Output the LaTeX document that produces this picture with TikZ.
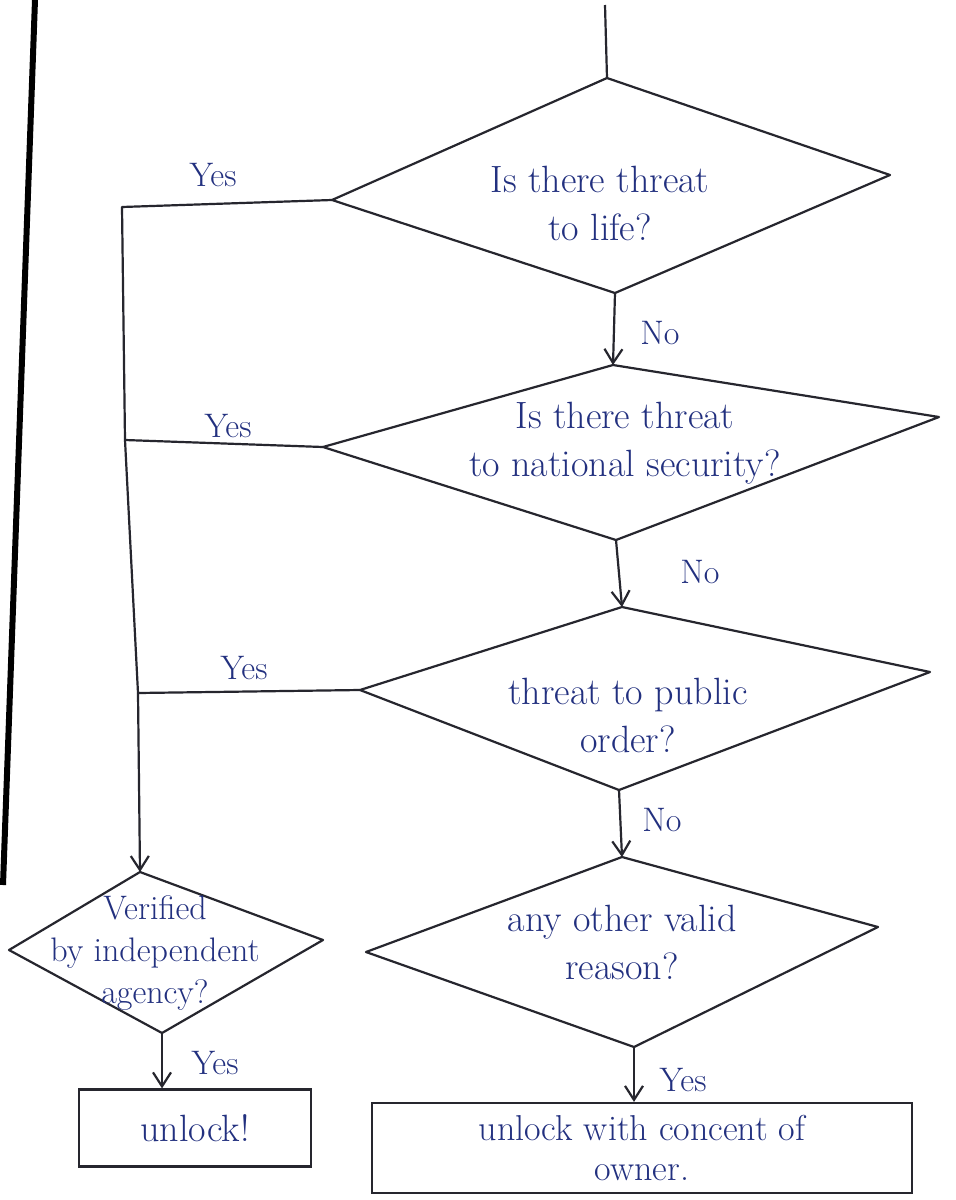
\documentclass[tikz,border=0pt]{standalone}
\usetikzlibrary{arrows.meta}
\definecolor{ink}{HTML}{22307F}
\definecolor{pen}{HTML}{26262E}
\begin{document}
\begin{tikzpicture}[x=0.5pt,y=-0.5pt,
  outline/.style={draw=pen, line width=1.1pt, line join=round},
  link/.style={draw=pen, line width=1.1pt, line join=round},
  flow/.style={draw=pen, line width=1.1pt, -{Straight Barb[length=7pt,width=9pt]}},
  txt/.style={text=ink, font=\fontsize{19}{24}\selectfont, align=center, inner sep=0pt},
  lbl/.style={text=ink, font=\fontsize{17}{20}\selectfont, inner sep=0pt},
  box/.style={draw=pen, line width=1.1pt, text=ink, font=\fontsize{19}{24}\selectfont, align=center}]
\useasboundingbox (0,0) rectangle (956,1200);
\fill[white] (0,0) rectangle (956,1200);

% margin rule of the page
\coordinate (m1) at (35,0);
\coordinate (m2) at (3,885);
\draw[line width=3pt, black] (m1) -- (m2);

% decision vertices
\coordinate (d1t) at (607,78);  \coordinate (d1r) at (890,175);
\coordinate (d1b) at (615,293); \coordinate (d1l) at (332,200);
\coordinate (d2t) at (613,365); \coordinate (d2r) at (939,417);
\coordinate (d2b) at (616,540); \coordinate (d2l) at (323,447);
\coordinate (d3t) at (622,607); \coordinate (d3r) at (930,672);
\coordinate (d3b) at (619,790); \coordinate (d3l) at (360,690);
\coordinate (d4t) at (140,872); \coordinate (d4r) at (323,940);
\coordinate (d4b) at (162,1033);\coordinate (d4l) at (9,950);
\coordinate (d5t) at (622,857); \coordinate (d5r) at (878,927);
\coordinate (d5b) at (634,1047);\coordinate (d5l) at (366,952);

\foreach \d in {d1,d2,d3,d4,d5}
  \draw[outline] (\d t) -- (\d r) -- (\d b) -- (\d l) -- cycle;

% questions
\node[txt] (q1) at (600,203) {Is there threat\\to life?};
\node[txt] (q2) at (625,443) {Is there threat\\to national security?};
\node[txt] (q3) at (628,715) {threat to public\\order?};
\node[txt, font=\fontsize{17}{21}\selectfont] (q4) at (155,953) {Verified\\by independent\\agency?};
\node[txt] (q5) at (622,942) {any other valid\\reason?};

% outcomes
\node[box, minimum width=116pt, minimum height=38.5pt] (u1) at (195,1128) {unlock!};
\node[box, minimum width=270pt, minimum height=45pt, inner sep=2pt,
      font=\fontsize{18}{20}\selectfont] (u2) at (642,1148) {unlock with concent of\\owner.};

% entry
\coordinate (start) at (605,5);
\draw[link] (start) -- (d1t);

% "No" chain
\draw[flow] (d1b) -- (d2t);
\draw[flow] (d2b) -- (d3t);
\draw[flow] (d3b) -- (d5t);
\node[lbl] at (660,333) {No};
\node[lbl] at (700,572) {No};
\node[lbl] at (662,820) {No};

% "Yes" trunk on the left
\coordinate (j1) at (122,207);
\coordinate (j2) at (125,440);
\coordinate (j3) at (138,693);
\draw[link] (d1l) -- (j1) -- (j2) -- (j3);
\draw[link] (d2l) -- (j2);
\draw[link] (d3l) -- (j3);
\draw[flow] (j3) -- (d4t);
\node[lbl] at (213,175) {Yes};
\node[lbl] at (228,426) {Yes};
\node[lbl] at (244,668) {Yes};

% final arrows
\draw[flow] (d4b) -- (d4b |- u1.north);
\node[lbl] at (215,1063) {Yes};
\draw[flow] (d5b) -- (d5b |- u2.north);
\node[lbl] at (683,1080) {Yes};
\end{tikzpicture}
\end{document}
